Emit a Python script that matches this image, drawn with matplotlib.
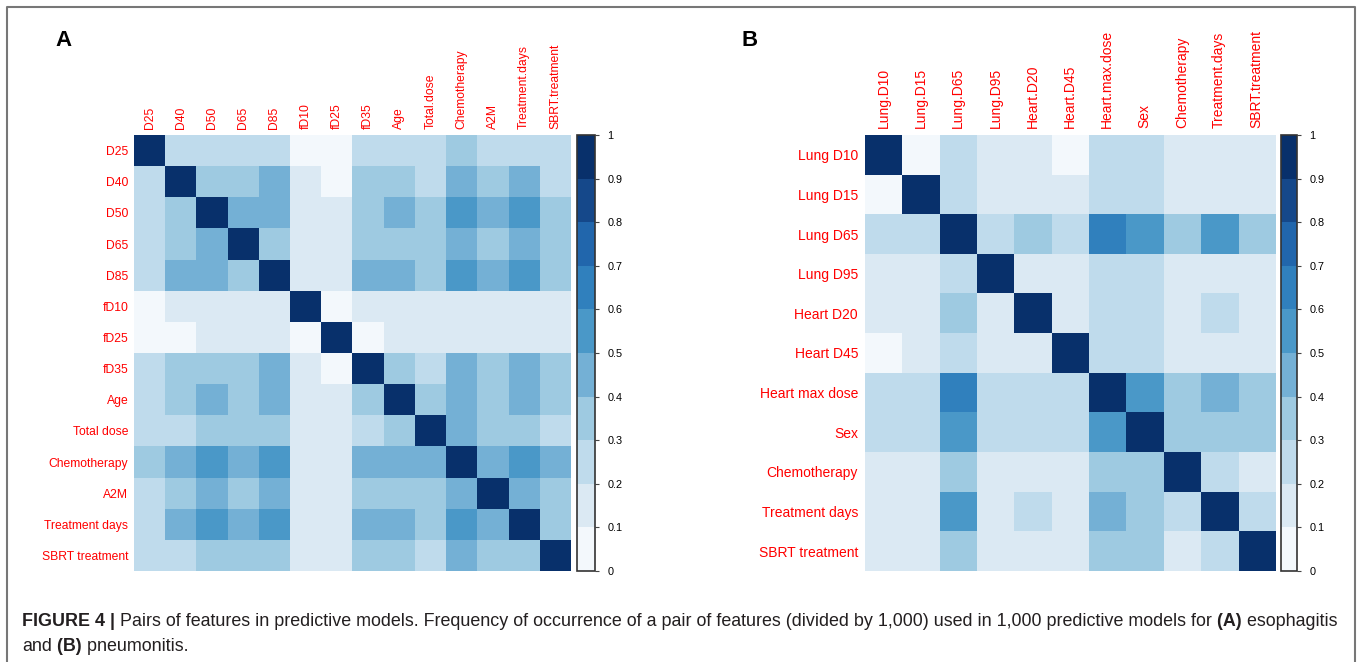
import numpy as np
import matplotlib
matplotlib.use("Agg")
import matplotlib.pyplot as plt
from matplotlib.colors import ListedColormap, BoundaryNorm
from matplotlib.lines import Line2D

plt.rcParams['font.family'] = ['Liberation Sans', 'DejaVu Sans']

# panel A : esophagitis
feat_a = ["D25", "D40", "D50", "D65", "D85", "fD10", "fD25", "fD35", "Age",
          "Total.dose", "Chemotherapy", "A2M", "Treatment.days", "SBRT.treatment"]
freq_a = np.array([
    [1.00, 0.25, 0.25, 0.25, 0.25, 0.05, 0.05, 0.25, 0.25, 0.25, 0.35, 0.25, 0.25, 0.25],
    [0.25, 1.00, 0.35, 0.35, 0.45, 0.15, 0.05, 0.35, 0.35, 0.25, 0.45, 0.35, 0.45, 0.25],
    [0.25, 0.35, 1.00, 0.45, 0.45, 0.15, 0.15, 0.35, 0.45, 0.35, 0.55, 0.45, 0.55, 0.35],
    [0.25, 0.35, 0.45, 1.00, 0.35, 0.15, 0.15, 0.35, 0.35, 0.35, 0.45, 0.35, 0.45, 0.35],
    [0.25, 0.45, 0.45, 0.35, 1.00, 0.15, 0.15, 0.45, 0.45, 0.35, 0.55, 0.45, 0.55, 0.35],
    [0.05, 0.15, 0.15, 0.15, 0.15, 1.00, 0.05, 0.15, 0.15, 0.15, 0.15, 0.15, 0.15, 0.15],
    [0.05, 0.05, 0.15, 0.15, 0.15, 0.05, 1.00, 0.05, 0.15, 0.15, 0.15, 0.15, 0.15, 0.15],
    [0.25, 0.35, 0.35, 0.35, 0.45, 0.15, 0.05, 1.00, 0.35, 0.25, 0.45, 0.35, 0.45, 0.35],
    [0.25, 0.35, 0.45, 0.35, 0.45, 0.15, 0.15, 0.35, 1.00, 0.35, 0.45, 0.35, 0.45, 0.35],
    [0.25, 0.25, 0.35, 0.35, 0.35, 0.15, 0.15, 0.25, 0.35, 1.00, 0.45, 0.35, 0.35, 0.25],
    [0.35, 0.45, 0.55, 0.45, 0.55, 0.15, 0.15, 0.45, 0.45, 0.45, 1.00, 0.45, 0.55, 0.45],
    [0.25, 0.35, 0.45, 0.35, 0.45, 0.15, 0.15, 0.35, 0.35, 0.35, 0.45, 1.00, 0.45, 0.35],
    [0.25, 0.45, 0.55, 0.45, 0.55, 0.15, 0.15, 0.45, 0.45, 0.35, 0.55, 0.45, 1.00, 0.35],
    [0.25, 0.25, 0.35, 0.35, 0.35, 0.15, 0.15, 0.35, 0.35, 0.25, 0.45, 0.35, 0.35, 1.00],
])

# panel B : pneumonitis
feat_b = ["Lung.D10", "Lung.D15", "Lung.D65", "Lung.D95", "Heart.D20", "Heart.D45",
          "Heart.max.dose", "Sex", "Chemotherapy", "Treatment.days", "SBRT.treatment"]
freq_b = np.array([
    [1.00, 0.05, 0.25, 0.15, 0.15, 0.05, 0.25, 0.25, 0.15, 0.15, 0.15],
    [0.05, 1.00, 0.25, 0.15, 0.15, 0.15, 0.25, 0.25, 0.15, 0.15, 0.15],
    [0.25, 0.25, 1.00, 0.25, 0.35, 0.25, 0.65, 0.55, 0.35, 0.55, 0.35],
    [0.15, 0.15, 0.25, 1.00, 0.15, 0.15, 0.25, 0.25, 0.15, 0.15, 0.15],
    [0.15, 0.15, 0.35, 0.15, 1.00, 0.15, 0.25, 0.25, 0.15, 0.25, 0.15],
    [0.05, 0.15, 0.25, 0.15, 0.15, 1.00, 0.25, 0.25, 0.15, 0.15, 0.15],
    [0.25, 0.25, 0.65, 0.25, 0.25, 0.25, 1.00, 0.55, 0.35, 0.45, 0.35],
    [0.25, 0.25, 0.55, 0.25, 0.25, 0.25, 0.55, 1.00, 0.35, 0.35, 0.35],
    [0.15, 0.15, 0.35, 0.15, 0.15, 0.15, 0.35, 0.35, 1.00, 0.25, 0.15],
    [0.15, 0.15, 0.55, 0.15, 0.25, 0.15, 0.45, 0.35, 0.25, 1.00, 0.25],
    [0.15, 0.15, 0.35, 0.15, 0.15, 0.15, 0.35, 0.35, 0.15, 0.25, 1.00],
])

cbar_ticks = [0, 0.1, 0.2, 0.3, 0.4, 0.5, 0.6, 0.7, 0.8, 0.9, 1]
cbar_labels = ["0", "0.1", "0.2", "0.3", "0.4", "0.5", "0.6", "0.7", "0.8", "0.9", "1"]

caption_lines = [
    [("FIGURE 4 |", "bold"),
     (" Pairs of features in predictive models. Frequency of occurrence of a pair of features "
      "(divided by 1,000) used in 1,000 predictive models for", "normal"),
     (" (A)", "bold"), (" esophagitis", "normal")],
    [("and", "normal"), (" (B)", "bold"), (" pneumonitis.", "normal")],
]

blues = ListedColormap(['#f3f8fc', '#dbe9f3', '#bfdbec', '#9ecae1', '#74b0d5',
                        '#4a98c8', '#3080bd', '#2166ac', '#15488a', '#08306b'])
norm = BoundaryNorm(cbar_ticks, blues.N)

W, H = 1358, 662
fig = plt.figure(figsize=(W / 100, H / 100), dpi=100)


def px(x0, y0, x1, y1):
    return [x0 / W, 1 - y1 / H, (x1 - x0) / W, (y1 - y0) / H]


def heatmap(rect, cbar_rect, feats, freq, fs, pad):
    ax = fig.add_axes(px(*rect))
    im = ax.imshow(freq, cmap=blues, norm=norm, aspect='auto', interpolation='nearest')
    n = len(feats)
    ax.set_xticks(range(n))
    ax.set_yticks(range(n))
    ax.set_xticklabels(feats, rotation=90, color='red', fontsize=fs)
    ax.set_yticklabels([f.replace('.', ' ') for f in feats], color='red', fontsize=fs)
    ax.xaxis.tick_top()
    ax.tick_params(length=0, pad=pad)
    for s in ax.spines.values():
        s.set_visible(False)
    cax = fig.add_axes(px(*cbar_rect))
    cb = fig.colorbar(im, cax=cax, ticks=cbar_ticks)
    cb.ax.set_yticklabels(cbar_labels)
    cb.ax.tick_params(labelsize=7.8, length=3, width=0.8, pad=6, color='#444444')
    cb.outline.set_edgecolor('#333333')
    cb.outline.set_linewidth(1.2)
    return ax


heatmap((134, 135, 571, 571), (577, 135, 595, 571), feat_a, freq_a, 8.7, 4)
heatmap((865, 135, 1275, 571), (1281, 135, 1297, 571), feat_b, freq_b, 10, 5)

fig.text(64 / W, 1 - 40 / H, "A", fontsize=16, fontweight='bold', ha='center', va='center')
fig.text(750 / W, 1 - 40 / H, "B", fontsize=16, fontweight='bold', ha='center', va='center')

# frame around the figure
frame_col = '#777777'
fig.add_artist(Line2D([7 / W, 7 / W, 1355 / W, 1355 / W], [0, 1 - 7 / H, 1 - 7 / H, 0],
                      color=frame_col, lw=1.5, transform=fig.transFigure))

# caption, bold and normal pieces placed one after the other
renderer = fig.canvas.get_renderer()
baselines = [626, 651]
for line, yb in zip(caption_lines, baselines):
    x = 22
    for s, w in line:
        t = fig.text(x / W, 1 - yb / H, s, fontsize=12.9, fontweight=w, color='#231f20',
                     ha='left', va='baseline')
        x += t.get_window_extent(renderer).width

fig.savefig("out.png", dpi=100)
